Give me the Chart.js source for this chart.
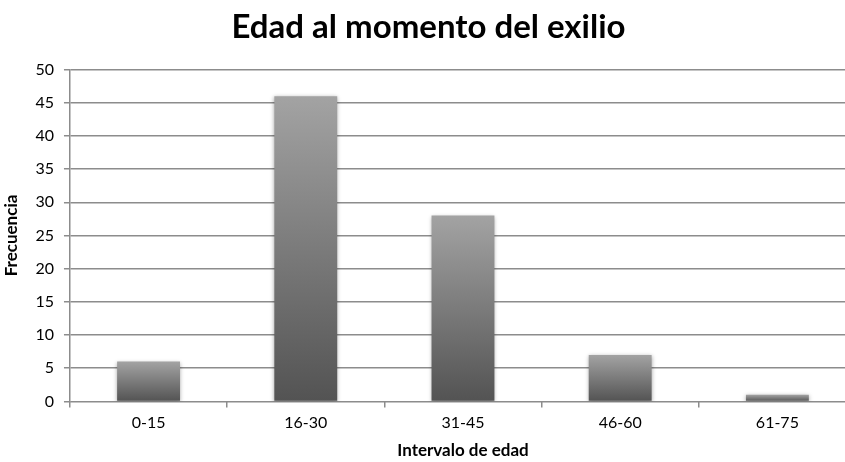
<!DOCTYPE html>
<html>
<head>
<meta charset="utf-8">
<script src="https://cdn.jsdelivr.net/npm/chart.js@4.4.1/dist/chart.umd.min.js"></script>
<style>
  html, body { margin: 0; padding: 0; background: #fff; overflow: hidden; }
  #wrap { width: 856px; height: 462px; }
</style>
</head>
<body>
<div id="wrap"><canvas id="myChart"></canvas></div>
<script>
// data
const categories = ['0-15', '16-30', '31-45', '46-60', '61-75'];
const frecuencia = [6, 46, 28, 7, 1];
const yTicks = [0, 5, 10, 15, 20, 25, 30, 35, 40, 45, 50];

const gridGray = '#8c8c8c';
const fontName = 'Lato, "Open Sans", sans-serif';

// vertical gray gradient per bar, light on top
function barFill(context) {
  const chart = context.chart;
  if (!chart.chartArea || context.dataIndex === undefined) return '#7a7a7a';
  const y = chart.scales.y;
  const top = y.getPixelForValue(frecuencia[context.dataIndex]);
  const base = y.getPixelForValue(0);
  const g = chart.ctx.createLinearGradient(0, top, 0, base);
  g.addColorStop(0, '#a3a3a3');
  g.addColorStop(1, '#535353');
  return g;
}

// soft shadow behind the bars
const barShadow = {
  id: 'barShadow',
  beforeDatasetsDraw(chart) {
    const c = chart.ctx;
    c.save();
    c.shadowColor = 'rgba(0,0,0,0.35)';
    c.shadowBlur = 4;
    c.shadowOffsetX = 0;
    c.shadowOffsetY = 1;
  },
  afterDatasetsDraw(chart) {
    chart.ctx.restore();
  }
};

const ctx = document.getElementById('myChart');
new Chart(ctx, {
  type: 'bar',
  data: {
    labels: categories,
    datasets: [
      {
        data: frecuencia,
        backgroundColor: barFill,
        borderWidth: 0,
        categoryPercentage: 1,
        barPercentage: 0.4,
      }
    ]
  },
  options: {
    responsive: true,
    maintainAspectRatio: false,
    animation: false,
    layout: {
      padding: { left: 1, right: 0, top: 8, bottom: 1 }
    },
    plugins: {
      legend: { display: false },
      tooltip: { enabled: false },
      title: {
        display: true,
        text: 'Edad al momento del exilio',
        color: '#000',
        font: { family: fontName, size: 33, weight: 'bold' },
        padding: { top: 0, bottom: 22 }
      }
    },
    scales: {
      x: {
        grid: {
          drawOnChartArea: false,
          drawTicks: true,
          tickLength: 6,
          color: gridGray,
          lineWidth: 1.5,
          offset: true
        },
        border: { display: false },
        ticks: {
          color: '#000',
          font: { family: fontName, size: 16 },
          padding: 6
        },
        title: {
          display: true,
          text: 'Intervalo de edad',
          color: '#000',
          font: { family: fontName, size: 17, weight: 'bold' },
          padding: { top: 2, bottom: 0 }
        }
      },
      y: {
        min: 0,
        max: 50,
        afterBuildTicks(axis) {
          axis.ticks = yTicks.map(v => ({ value: v }));
        },
        grid: {
          color: gridGray,
          lineWidth: 1.5,
          tickLength: 6
        },
        border: { display: true, color: gridGray, width: 1.5 },
        ticks: {
          color: '#000',
          font: { family: fontName, size: 16 },
          padding: 10
        },
        title: {
          display: true,
          text: 'Frecuencia',
          color: '#000',
          font: { family: fontName, size: 17, weight: 'bold' },
          padding: { top: 0, bottom: 4 }
        }
      }
    }
  },
  plugins: [barShadow]
});
</script>
</body>
</html>
